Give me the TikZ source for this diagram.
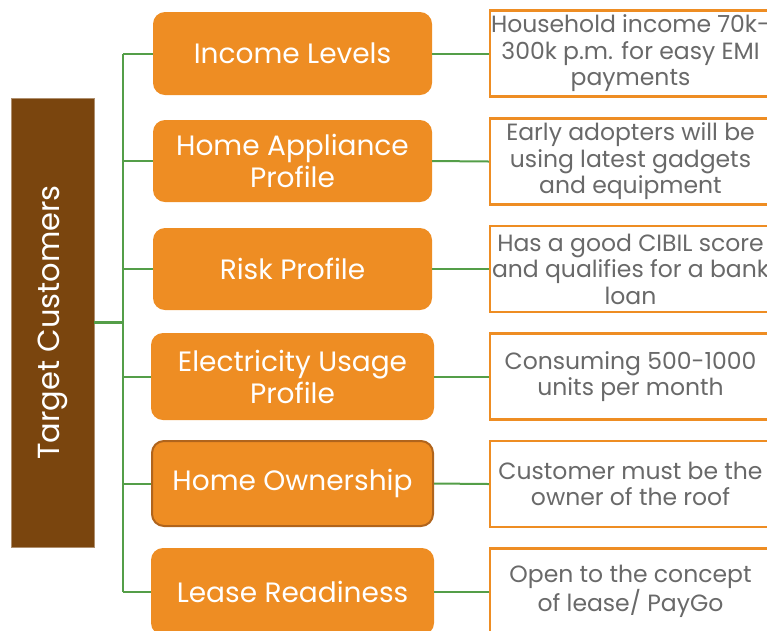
\documentclass[tikz,border=0pt]{standalone}
\usepackage{fontspec}
\setmainfont{Poppins}
\definecolor{tcorange}{RGB}{238,141,35}
\definecolor{tcbrown}{RGB}{122,69,14}
\definecolor{tcgreen}{RGB}{84,158,72}
\definecolor{tcgray}{RGB}{105,105,105}
\definecolor{tcedge}{RGB}{176,100,28}

\begin{document}
\begin{tikzpicture}[x=1pt, y=-1pt,
    head/.style={fill=tcbrown, draw=tcbrown!60!white, line width=0.6pt, minimum width=83pt, minimum height=449pt, inner sep=0pt},
    crit/.style={fill=tcorange, rounded corners=12pt, text=white, align=center, font=\fontsize{28}{32}\selectfont, inner sep=0pt},
    info/.style={fill=white, draw=tcorange, line width=2.5pt, text=tcgray, align=center, font=\fontsize{23.5}{26.5}\selectfont, minimum width=281pt, minimum height=86pt, inner sep=0pt},
    link/.style={draw=tcgreen, line width=2pt}]
  \useasboundingbox (0,0) rectangle (767,630);
  \node [head] (tc) at (52.5,322.5) {};
  \node [rotate=90, text=white, font=\fontsize{30.5}{34}\selectfont] (tct) at (tc.center) {Target Customers};

  \node [crit, minimum width=279pt, minimum height=83pt] (c1) at (292.5,53.5) {Income Levels};
  \node [crit, minimum width=279pt, minimum height=82pt] (c2) at (292.5,161) {Home Appliance\\Profile};
  \node [crit, minimum width=279pt, minimum height=82pt] (c3) at (292.5,269) {Risk Profile};
  \node [crit, minimum width=283pt, minimum height=87pt] (c4) at (292.5,376.5) {Electricity Usage\\Profile};
  \node [crit, minimum width=281pt, minimum height=85pt, draw=tcedge, line width=2pt] (c5) at (292.5,483.5) {Home Ownership};
  \node [crit, minimum width=283pt, minimum height=87pt] (c6) at (292.5,591.5) {Lease Readiness};

  \node [info] (d1) at (630.5,53.5) {Household income 70k-\\300k p.m. for easy EMI\\payments};
  \node [info] (d2) at (630.5,161.5) {Early adopters will be\\using latest gadgets\\and equipment};
  \node [info] (d3) at (630.5,269) {Has a good CIBIL score\\and qualifies for a bank\\loan};
  \node [info] (d4) at (630.5,376.5) {Consuming 500-1000\\units per month};
  \node [info] (d5) at (630.5,484) {Customer must be the\\owner of the roof};
  \node [info] (d6) at (630.5,591.5) {Open to the concept\\of lease/ PayGo};

  % tree lines
  \coordinate (hub) at (123,322.5);
  \draw [link, line width=3pt] (tc.east) -- (hub);
  \draw [link] (hub |- c1.west) -- (hub |- c6.west);
  \foreach \i in {1,...,6}
  {
    \draw [link] (hub |- c\i.west) -- (c\i.west);
    \draw [link] (c\i.east) -- (d\i.west);
  }
\end{tikzpicture}
\end{document}
